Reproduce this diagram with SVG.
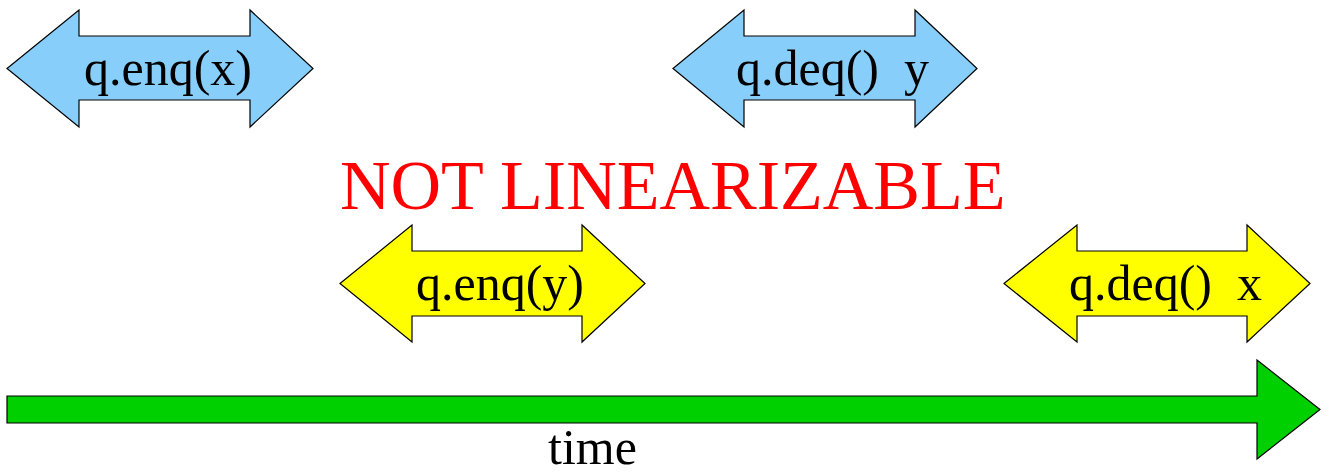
<svg xmlns="http://www.w3.org/2000/svg" width="1323" height="475" viewBox="0 0 1323 475">
  <style>
    .arrow { stroke: #000; stroke-width: 1.2; stroke-linejoin: miter; }
    .blue { fill: #87CEFA; }
    .yellow { fill: #FFFF00; }
    .green { fill: #00D000; }
    .lbl { font-family: "Liberation Serif", "Times New Roman", serif; font-size: 50px; fill: #000; white-space: pre; }
    .title { font-family: "Liberation Serif", "Times New Roman", serif; font-size: 70px; fill: #FF0000; }
  </style>
  <rect width="1323" height="475" fill="#fff"/>

  <g id="enq-x">
    <path class="arrow blue" d="M7,68.5 L79,10 L79,36 L250,36 L250,10 L313,68.5 L250,127 L250,100 L79,100 L79,127 Z"/>
    <text class="lbl" x="84" y="85">q.enq(x)</text>
  </g>

  <g id="deq-y">
    <path class="arrow blue" d="M673,68.5 L744,10 L744,36 L915,36 L915,10 L977,68.5 L915,127 L915,100 L744,100 L744,127 Z"/>
    <text class="lbl" x="736" y="85" xml:space="preserve">q.deq()  y</text>
  </g>

  <g id="enq-y">
    <path class="arrow yellow" d="M340,283.5 L412,225 L412,251 L582,251 L582,225 L645,283.5 L582,342 L582,316 L412,316 L412,342 Z"/>
    <text class="lbl" x="416" y="300">q.enq(y)</text>
  </g>

  <g id="deq-x">
    <path class="arrow yellow" d="M1004,283.5 L1077,225 L1077,251 L1247,251 L1247,225 L1310,283.5 L1247,342 L1247,316 L1077,316 L1077,342 Z"/>
    <text class="lbl" x="1069" y="300" xml:space="preserve">q.deq()  x</text>
  </g>

  <g id="verdict">
    <text class="title" x="340" y="209">NOT LINEARIZABLE</text>
  </g>

  <g id="connectors">
    <g id="time-axis">
      <path class="arrow green" d="M7,396 L1257,396 L1257,360 L1320,409.5 L1257,459 L1257,423 L7,423 Z"/>
      <text class="lbl" x="548" y="464">time</text>
    </g>
  </g>
</svg>
